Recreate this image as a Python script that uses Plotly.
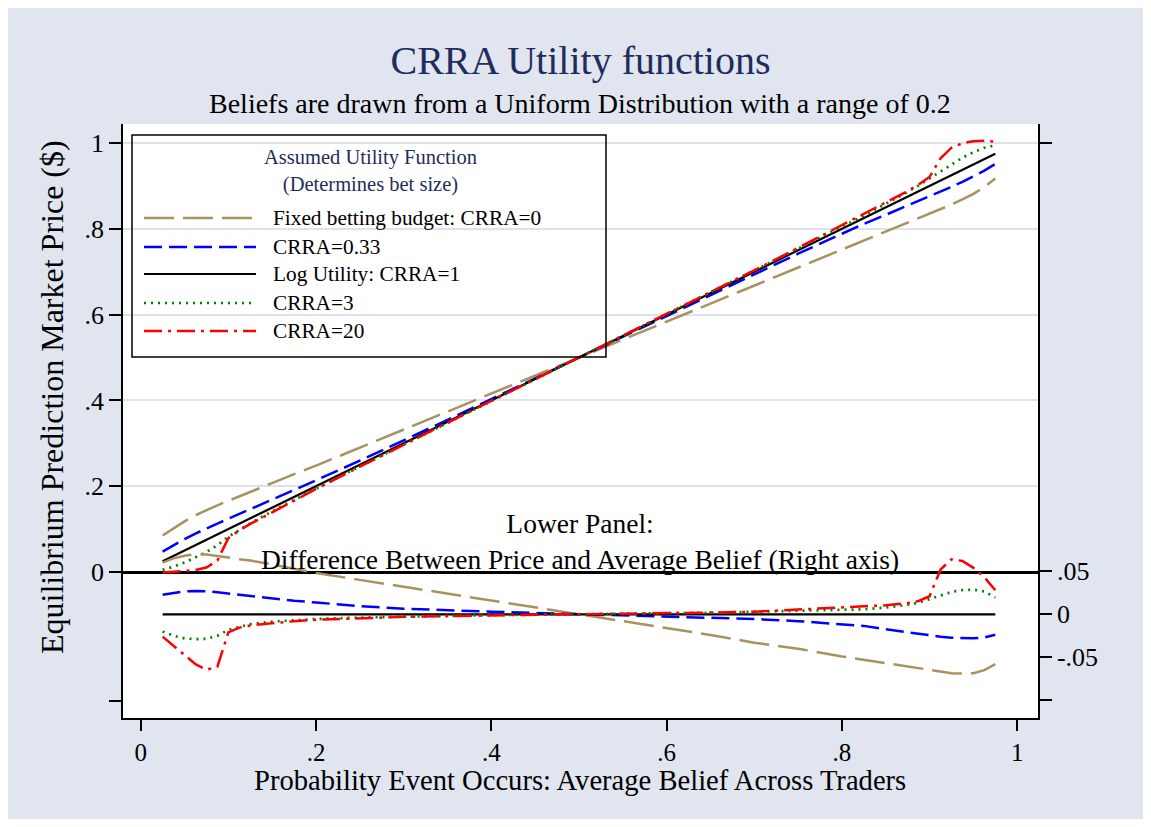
import plotly.graph_objects as go

# ---------------- data ----------------
beliefs = [0.025, 0.0375, 0.05, 0.0625, 0.075, 0.0875, 0.1, 0.1125, 0.125, 0.15, 0.175, 0.2,
           0.25, 0.3, 0.35, 0.4, 0.45, 0.5, 0.55, 0.6, 0.65, 0.7, 0.75, 0.8, 0.825, 0.85,
           0.875, 0.8875, 0.9, 0.9125, 0.925, 0.9375, 0.95, 0.9625, 0.975]

# difference between equilibrium price and average belief (lower panel, right axis)
diff_crra0 = [0.060, 0.065, 0.068, 0.070, 0.0695, 0.068, 0.066, 0.064, 0.0625, 0.058, 0.053, 0.048,
              0.040, 0.032, 0.024, 0.016, 0.008, 0.0, -0.008, -0.016, -0.024, -0.033, -0.040, -0.049,
              -0.053, -0.057, -0.061, -0.063, -0.065, -0.067, -0.0685, -0.069, -0.0685, -0.065, -0.058]
diff_crra033 = [0.0227, 0.025, 0.0268, 0.0272, 0.0268, 0.0255, 0.024, 0.0225, 0.021, 0.018, 0.0158, 0.0137,
                0.0095, 0.0065, 0.0045, 0.003, 0.0015, 0.0, -0.0015, -0.003, -0.004, -0.0055, -0.008, -0.0115,
                -0.0135, -0.0175, -0.021, -0.023, -0.0245, -0.026, -0.0273, -0.028, -0.028, -0.027, -0.0238]
diff_crra1 = [0.0] * 35
diff_crra3 = [-0.020, -0.025, -0.028, -0.029, -0.0285, -0.025, -0.018, -0.0145, -0.0115, -0.0085, -0.0067, -0.0055,
              -0.0038, -0.0027, -0.0018, -0.001, -0.0005, 0.0, 0.0005, 0.001, 0.0018, 0.003, 0.0038, 0.0048,
              0.0058, 0.0078, 0.011, 0.0135, 0.0175, 0.022, 0.026, 0.0282, 0.0287, 0.0265, 0.0195]
diff_crra20 = [-0.026, -0.037, -0.048, -0.058, -0.0645, -0.061, -0.021, -0.0155, -0.013, -0.0105, -0.008, -0.0064,
               -0.0045, -0.003, -0.002, -0.001, -0.0005, 0.0, 0.0005, 0.001, 0.002, 0.003, 0.0055, 0.0078,
               0.009, 0.0105, 0.013, 0.0155, 0.021, 0.052, 0.064, 0.062, 0.054, 0.043, 0.028]

series_names = ["Fixed betting budget: CRRA=0", "CRRA=0.33", "Log Utility: CRRA=1", "CRRA=3", "CRRA=20"]
series_diffs = [diff_crra0, diff_crra033, diff_crra1, diff_crra3, diff_crra20]

x_tickvals = [0, 0.2, 0.4, 0.6, 0.8, 1]
x_ticktext = ["0", ".2", ".4", ".6", ".8", "1"]
y_tickvals = [0, 0.2, 0.4, 0.6, 0.8, 1]
y_ticktext = ["0", ".2", ".4", ".6", ".8", "1"]
y2_tickvals = [-0.1, -0.05, 0, 0.05, 0.548]
y2_ticktext = ["", "-.05", "0", ".05", ""]

# ---------------- styles ----------------
colors = ["#a8925f", "#0000ff", "#000000", "#008000", "#ff0000"]
dashes = ["30px,9px", "18px,7px", "solid", "2px,5px", "18px,6px,3px,6px"]
widths = [2.5, 2.5, 2.2, 2.7, 2.5]

FONT = "Liberation Serif, Times New Roman, serif"
NAVY = "#1f2c5c"
BG = "#e0e5f0"

OFF = 8  # page body margin
W, H = 1151 - 2 * OFF, 827 - 2 * OFF
ML, MT = 123 - OFF, 124 - OFF
MR = W - (1038 - OFF)
MB = H - (718 - OFF)
PW, PH = W - ML - MR, H - MT - MB


def px_x(px):
    return (px - OFF - ML) / PW


def px_y(py):
    return (H - MB - (py - OFF)) / PH


def text_ann(text, x, y, size, color="black", xanchor="center", angle=0):
    return dict(text=text, xref="paper", yref="paper", x=px_x(x), y=px_y(y), xanchor=xanchor,
                yanchor="middle", showarrow=False, textangle=angle,
                font=dict(family=FONT, size=size, color=color))


fig = go.Figure()

prices = [[b + d for b, d in zip(beliefs, dl)] for dl in series_diffs]

for name, pr, c, dsh, w in zip(series_names, prices, colors, dashes, widths):
    fig.add_trace(go.Scatter(x=beliefs, y=pr, mode="lines", name=name, showlegend=False,
                             line=dict(color=c, dash=dsh, width=w), yaxis="y", hoverinfo="skip"))
for name, dl, c, dsh, w in zip(series_names, series_diffs, colors, dashes, widths):
    fig.add_trace(go.Scatter(x=beliefs, y=dl, mode="lines", name=name, showlegend=False,
                             line=dict(color=c, dash=dsh, width=w), yaxis="y2", hoverinfo="skip"))

shapes = []
annotations = []

# manual legend
shapes.append(dict(type="rect", xref="paper", yref="paper",
                   x0=px_x(132), x1=px_x(606), y0=px_y(357), y1=px_y(135),
                   line=dict(color="black", width=1.5), fillcolor="rgba(0,0,0,0)"))
row_y = [218, 247, 274, 303, 331]
for name, c, dsh, w, ry in zip(series_names, colors, dashes, widths, row_y):
    shapes.append(dict(type="line", xref="paper", yref="paper",
                       x0=px_x(144), x1=px_x(256), y0=px_y(ry), y1=px_y(ry),
                       line=dict(color=c, dash=dsh, width=w)))
    annotations.append(text_ann(name, 271, ry, 21.3, xanchor="left"))
annotations.append(text_ann("Assumed Utility Function<br>(Determines bet size)", 370, 171, 20.5, color=NAVY))

# subtitle
annotations.append(text_ann("Beliefs are drawn from a Uniform Distribution with a range of 0.2", 580, 103, 28))
# lower panel label
annotations.append(text_ann("Lower Panel:<br>Difference Between Price and Average Belief (Right axis)",
                            580, 541, 27.5))
# axis titles
annotations.append(text_ann("Equilibrium Prediction Market Price ($)", 52, 397, 32, angle=-90))
annotations.append(text_ann("Probability Event Occurs: Average Belief Across Traders", 580, 780, 28.6))

fig.update_layout(
    width=W, height=H,
    margin=dict(l=ML, r=MR, t=MT, b=MB, pad=0),
    paper_bgcolor=BG, plot_bgcolor="white",
    title=dict(text="CRRA Utility functions", x=0.5, xref="paper", xanchor="center",
               y=1 - (60 - OFF) / H, yref="container", yanchor="middle",
               font=dict(family=FONT, size=40, color=NAVY)),
    showlegend=False,
    shapes=shapes,
    annotations=annotations,
    xaxis=dict(range=[-0.0202, 1.0237], tickmode="array", tickvals=x_tickvals, ticktext=x_ticktext,
               showgrid=False, zeroline=False, showline=True, linecolor="black", linewidth=1.5,
               ticks="outside", ticklen=11, tickwidth=1.5, tickcolor="black",
               tickfont=dict(family=FONT, size=25, color="black")),
    yaxis=dict(range=[-0.3403, 1.0443], tickmode="array", tickvals=y_tickvals, ticktext=y_ticktext,
               showgrid=True, gridcolor="#dde2ee", gridwidth=2,
               zeroline=True, zerolinecolor="black", zerolinewidth=2.5,
               showline=True, linecolor="black", linewidth=1.5,
               ticks="outside", ticklen=12, tickwidth=1.5, tickcolor="black",
               minor=dict(tickmode="array", tickvals=[-0.3], ticks="outside", ticklen=12, tickwidth=1.5,
                          tickcolor="black", showgrid=False),
               tickfont=dict(family=FONT, size=26, color="black")),
    yaxis2=dict(range=[-0.1206, 0.5701], overlaying="y", side="right", tickmode="array",
                tickvals=y2_tickvals, ticktext=y2_ticktext, showgrid=False, zeroline=False,
                showline=True, linecolor="black", linewidth=1.5,
                ticks="outside", ticklen=12, tickwidth=1.5, tickcolor="black",
                tickfont=dict(family=FONT, size=26, color="black")),
)

fig.write_html("out.html")
